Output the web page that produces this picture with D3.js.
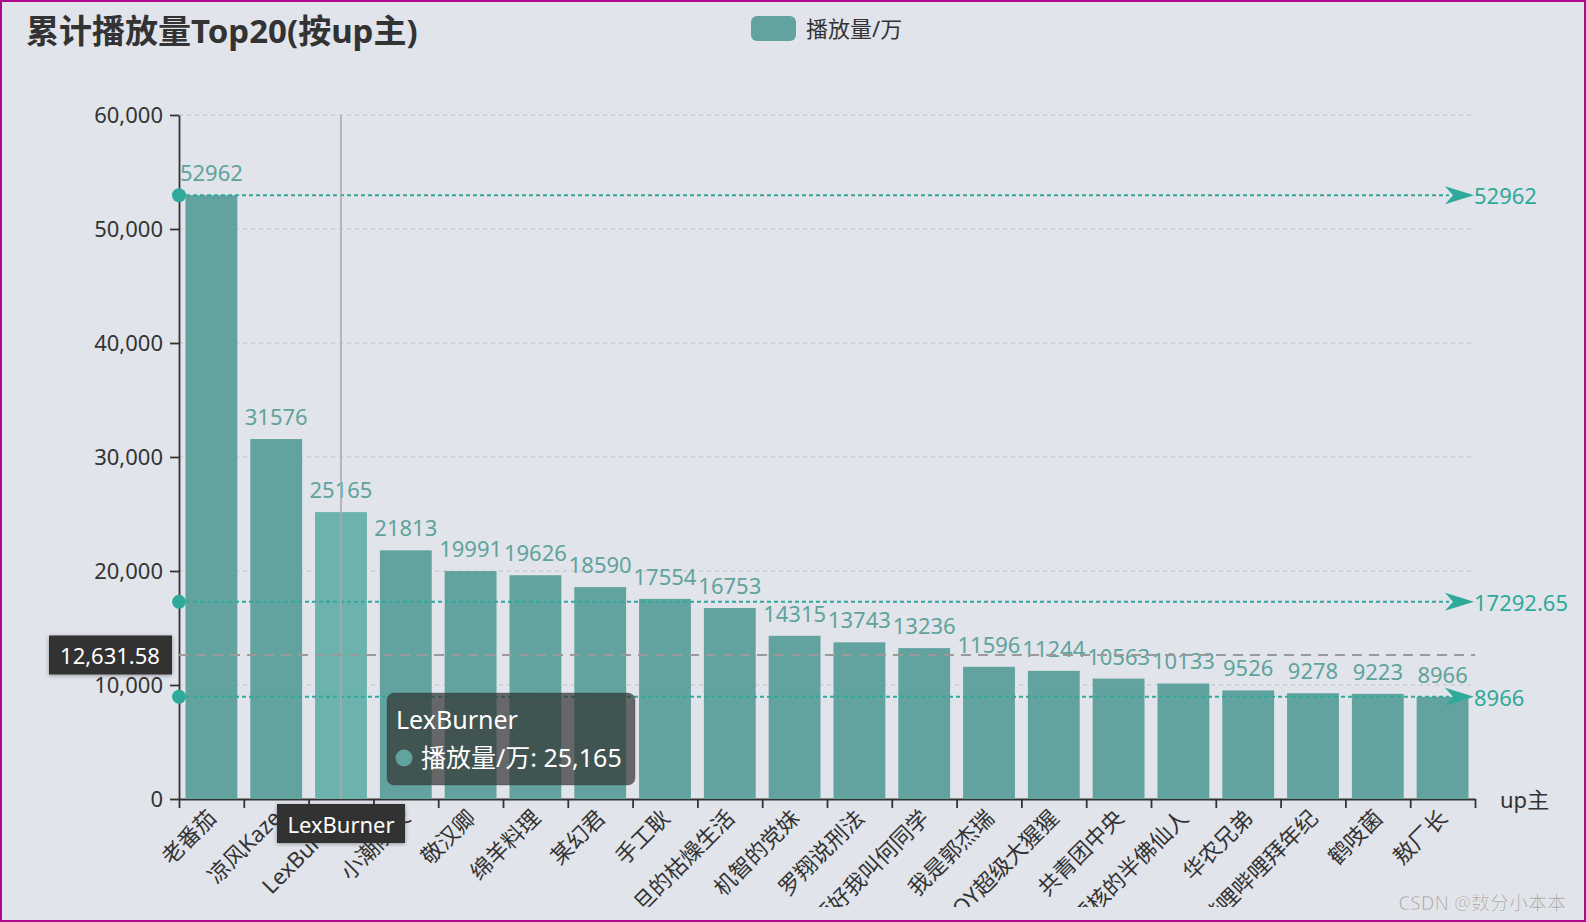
<!DOCTYPE html>
<html>
<head>
<meta charset="utf-8">
<script src="https://cdn.jsdelivr.net/npm/d3@7"></script>
<style>
  html, body { margin: 0; padding: 0; background: #e1e4eb; }
  svg { display: block; }
  text { font-family: "Noto Sans", "Noto Sans CJK SC", sans-serif; }
</style>
</head>
<body>
<div id="chart"></div>
<script>
// 数据
const upNames = ["老番茄", "凉风Kaze", "LexBurner", "小潮院长", "敬汉卿", "绵羊料理", "某幻君", "手工耿",
  "一旦的枯燥生活", "机智的党妹", "罗翔说刑法", "老师好我叫何同学", "我是郭杰瑞", "JOY超级大猩猩",
  "共青团中央", "硬核的半佛仙人", "华农兄弟", "哔哩哔哩拜年纪", "鹤吱菌", "敖厂长"]
const playCounts = [52962, 31576, 25165, 21813, 19991, 19626, 18590, 17554, 16753, 14315,
  13743, 13236, 11596, 11244, 10563, 10133, 9526, 9278, 9223, 8966]
const yTickValues = [0, 10000, 20000, 30000, 40000, 50000, 60000]
const seriesName = "播放量/万"
const titleText = "累计播放量Top20(按up主)"
const xAxisName = "up主"
const hoverIndex = 2          // 鼠标悬停的柱子
const pointerValue = 12631.58 // 鼠标所在的 y 值

const W = 1586, H = 922
const margin = { top: 115, right: 111, bottom: 123, left: 179 }
const barColor = "#63a39f", hoverColor = "#6cb3ae", markColor = "#2fa999", textColor = "#333"

const svg = d3.select("#chart").append("svg").attr("width", W).attr("height", H)
svg.append("rect").attr("x", 1).attr("y", 1).attr("width", W - 2).attr("height", H - 2)
  .attr("fill", "#e1e4eb").attr("stroke", "#b0088a").attr("stroke-width", 2)

svg.append("clipPath").attr("id", "clip")
  .append("rect").attr("x", 0).attr("y", 0).attr("width", W).attr("height", 907)

const x0 = margin.left, x1 = W - margin.right, y0 = H - margin.bottom, y1 = margin.top
const x = d3.scaleBand().domain(upNames).range([x0, x1]).paddingInner(0.2).paddingOuter(0.1)
const xEdge = d3.scaleLinear().domain([0, upNames.length]).range([x0, x1])
const y = d3.scaleLinear().domain([0, 60000]).range([y0, y1])

// 标题
svg.append("text").attr("x", 26).attr("y", 43).attr("font-size", 33).attr("font-weight", "bold")
  .attr("fill", textColor).text(titleText)

// 图例
svg.append("rect").attr("x", 751).attr("y", 16).attr("width", 45).attr("height", 25).attr("rx", 6)
  .attr("fill", barColor)
svg.append("text").attr("x", 806).attr("y", 28).attr("dominant-baseline", "central")
  .attr("font-size", 22).attr("fill", textColor).text(seriesName)

// 分隔线
svg.append("g").selectAll("line").data(yTickValues.filter(d => d > 0)).join("line")
  .attr("x1", x0).attr("x2", x1).attr("y1", d => y(d)).attr("y2", d => y(d))
  .attr("stroke", "#cbcdd2").attr("stroke-width", 1.5).attr("stroke-dasharray", "4,4")

// Y 轴
const yAxis = svg.append("g").attr("transform", `translate(${x0},0)`)
  .call(d3.axisLeft(y).tickValues(yTickValues).tickSize(9).tickSizeOuter(0).tickPadding(7).tickFormat(d3.format(",")))
yAxis.selectAll("path, line").attr("stroke", textColor).attr("stroke-width", 1.8)
yAxis.selectAll("text").attr("font-size", 22).attr("fill", textColor)
  .style("font-family", '"Noto Sans", "Noto Sans CJK SC", sans-serif')

// X 轴
const xAxis = svg.append("g").attr("transform", `translate(0,${y0})`)
  .call(d3.axisBottom(xEdge).tickValues(d3.range(upNames.length + 1)).tickSize(9).tickSizeOuter(0).tickFormat(""))
xAxis.selectAll("path, line").attr("stroke", textColor).attr("stroke-width", 1.8)

svg.append("g").attr("clip-path", "url(#clip)")
  .selectAll("text").data(upNames).join("text")
  .attr("transform", d => `translate(${x(d) + x.bandwidth() / 2},${y0 + 14}) rotate(-45)`)
  .attr("text-anchor", "end").attr("dominant-baseline", "central")
  .attr("font-size", 22).attr("fill", textColor).text(d => d)

svg.append("text").attr("x", 1500).attr("y", y0).attr("dominant-baseline", "central")
  .attr("font-size", 22).attr("fill", textColor).text(xAxisName)

// 柱子
svg.append("g").selectAll("rect").data(playCounts).join("rect")
  .attr("x", (d, i) => x(upNames[i])).attr("width", x.bandwidth())
  .attr("y", d => y(d)).attr("height", d => y0 - y(d))
  .attr("fill", (d, i) => i === hoverIndex ? hoverColor : barColor)

svg.append("g").selectAll("text").data(playCounts).join("text")
  .attr("x", (d, i) => x(upNames[i]) + x.bandwidth() / 2).attr("y", d => y(d) - 14)
  .attr("text-anchor", "middle").attr("font-size", 22).attr("fill", "#5fa39c").text(d => d)

// 标记线: 最大值 / 平均值 / 最小值
const markLines = [
  { value: d3.max(playCounts) },
  { value: +d3.mean(playCounts).toFixed(2) },
  { value: d3.min(playCounts) }
]
const markG = svg.append("g").selectAll("g").data(markLines).join("g")
  .attr("transform", d => `translate(0,${y(d.value)})`)
markG.append("line").attr("x1", x0).attr("x2", x1 - 26).attr("y1", 0).attr("y2", 0)
  .attr("stroke", markColor).attr("stroke-width", 2).attr("stroke-dasharray", "4,3")
markG.append("circle").attr("cx", x0).attr("cy", 0).attr("r", 7).attr("fill", markColor)
markG.append("path").attr("d", `M${x1 - 1},0 L${x1 - 30},-9 L${x1 - 22},0 L${x1 - 30},9 Z`).attr("fill", markColor)
markG.append("text").attr("x", x1 - 1).attr("y", 0).attr("dominant-baseline", "central")
  .attr("font-size", 22).attr("fill", markColor).text(d => d.value)

// 坐标轴指示器
const cx = x(upNames[hoverIndex]) + x.bandwidth() / 2
const py = y(pointerValue)
svg.append("line").attr("x1", cx).attr("x2", cx).attr("y1", y1).attr("y2", y0)
  .attr("stroke", "#aaa").attr("stroke-width", 1.6)
svg.append("line").attr("x1", x0).attr("x2", x1).attr("y1", py).attr("y2", py)
  .attr("stroke", "#9a9a9a").attr("stroke-width", 1.8).attr("stroke-dasharray", "10,7")

const shadow = svg.append("defs").append("filter").attr("id", "sh")
shadow.append("feDropShadow").attr("dx", 0).attr("dy", 1).attr("stdDeviation", 2).attr("flood-opacity", 0.35)

svg.append("rect").attr("x", 49).attr("y", py - 19.5).attr("width", 123).attr("height", 39)
  .attr("fill", "#333").attr("filter", "url(#sh)")
svg.append("text").attr("x", 110).attr("y", py).attr("text-anchor", "middle").attr("dominant-baseline", "central")
  .attr("font-size", 22).attr("fill", "#fff").text(d3.format(",.2f")(pointerValue))

svg.append("rect").attr("x", cx - 64).attr("y", y0 + 5).attr("width", 128).attr("height", 39)
  .attr("fill", "#333").attr("filter", "url(#sh)")
svg.append("text").attr("x", cx).attr("y", y0 + 24.5).attr("text-anchor", "middle").attr("dominant-baseline", "central")
  .attr("font-size", 22).attr("fill", "#fff").text(upNames[hoverIndex])

// 提示框
const tip = svg.append("g").attr("transform", "translate(387,693)")
tip.append("rect").attr("width", 248).attr("height", 92).attr("rx", 7)
  .attr("fill", "rgba(50,50,50,0.7)").attr("stroke", "#333").attr("stroke-opacity", 0.3)
tip.append("text").attr("x", 9).attr("y", 26).attr("dominant-baseline", "central")
  .attr("font-size", 25).attr("fill", "#fff").text(upNames[hoverIndex])
tip.append("circle").attr("cx", 17).attr("cy", 65).attr("r", 8.5).attr("fill", barColor)
tip.append("text").attr("x", 34).attr("y", 64).attr("dominant-baseline", "central")
  .attr("font-size", 25).attr("fill", "#fff").text(seriesName + ": " + d3.format(",")(playCounts[hoverIndex]))

// 水印
svg.append("text").attr("x", 1566).attr("y", 910).attr("text-anchor", "end")
  .attr("font-size", 19).attr("fill", "#a2a2a2").attr("stroke", "#fff").attr("stroke-width", 0.6)
  .attr("stroke-opacity", 0.7).text("CSDN @数分小本本")
</script>
</body>
</html>
